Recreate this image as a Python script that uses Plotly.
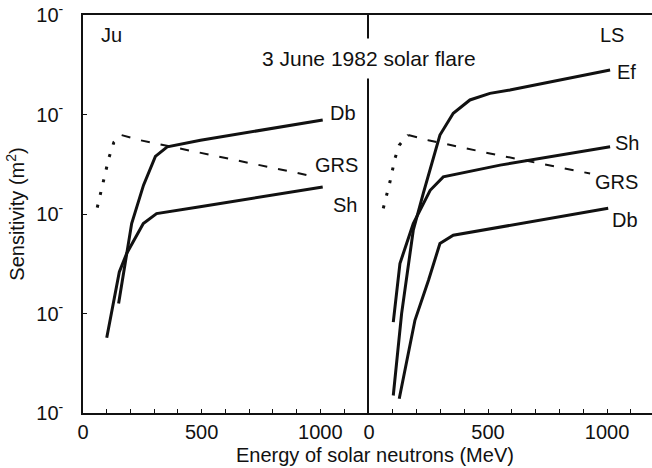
import math
import plotly.graph_objects as go

# ---- data (energy in MeV, sensitivity in m^2) ----
ju_db_e = [150, 205, 255, 305, 355, 495, 1010]
ju_db_s = [1.26e-3, 8.02e-3, 1.95e-2, 3.80e-2, 4.73e-2, 5.52e-2, 8.79e-2]
ju_sh_e = [100, 153, 184, 254, 310, 493, 1010]
ju_sh_s = [5.71e-4, 2.61e-3, 4.01e-3, 8.02e-3, 1.01e-2, 1.18e-2, 1.87e-2]
ju_grs_dot_e = [60, 85, 109, 130, 163]
ju_grs_dot_s = [1.16e-2, 2.06e-2, 3.66e-2, 5.25e-2, 6.21e-2]
ju_grs_dash_e = [163, 240, 949]
ju_grs_dash_s = [6.21e-2, 5.52e-2, 2.45e-2]

ls_ef_e = [102, 137, 186, 228, 298, 354, 424, 508, 592, 1013]
ls_ef_s = [1.50e-4, 9.98e-4, 6.87e-3, 1.61e-2, 6.21e-2, 1.03e-1, 1.40e-1, 1.63e-1, 1.76e-1, 2.80e-1]
ls_sh_e = [102, 130, 186, 257, 312, 551, 1013]
ls_sh_s = [8.20e-4, 3.18e-3, 8.02e-3, 1.73e-2, 2.36e-2, 3.10e-2, 4.73e-2]
ls_db_e = [127, 193, 250, 298, 354, 551, 1005]
ls_db_s = [1.39e-4, 8.55e-4, 2.16e-3, 5.05e-3, 6.12e-3, 7.41e-3, 1.14e-2]
ls_grs_dot_e = [60, 88, 109, 127, 165]
ls_grs_dot_s = [1.14e-2, 2.10e-2, 3.61e-2, 4.92e-2, 6.21e-2]
ls_grs_dash_e = [165, 249, 508, 929]
ls_grs_dash_s = [6.21e-2, 5.52e-2, 4.06e-2, 2.55e-2]

# curve labels: (text, energy, sensitivity, panel)
label_text = ["Ju", "Db", "GRS", "Sh", "LS", "Ef", "Sh", "GRS", "Db"]
label_e = [122, 1096, 1068, 1103, 1020, 1083, 1083, 1041, 1076]
label_s = [0.63, 0.1026, 0.031, 0.0123, 0.63, 0.269, 0.0512, 0.021, 0.00867]
label_panel = [1, 1, 1, 1, 2, 2, 2, 2, 2]

x_tickvals = list(range(0, 1201, 100))
x_ticktext = ["0" if v == 0 else "500" if v == 500 else "1000" if v == 1000 else "" for v in x_tickvals]
y_tickvals = [1e-4, 1e-3, 1e-2, 1e-1, 1]
y_ticktext = ["10<sup>-</sup>"] * 5

FONT = "Liberation Sans, Arial, sans-serif"
BLACK = "#111111"

fig = go.Figure()

def solid(x, y, xa, ya):
    fig.add_trace(go.Scatter(x=x, y=y, mode="lines", xaxis=xa, yaxis=ya,
                             line=dict(color=BLACK, width=3), showlegend=False, hoverinfo="skip"))

def dotted(x, y, xa, ya):
    fig.add_trace(go.Scatter(x=x, y=y, mode="lines", xaxis=xa, yaxis=ya,
                             line=dict(color=BLACK, width=3, dash="3px,10px"), showlegend=False, hoverinfo="skip"))

def dashed(x, y, xa, ya):
    fig.add_trace(go.Scatter(x=x, y=y, mode="lines", xaxis=xa, yaxis=ya,
                             line=dict(color=BLACK, width=2, dash="9px,11px"), showlegend=False, hoverinfo="skip"))

solid(ju_db_e, ju_db_s, "x", "y")
solid(ju_sh_e, ju_sh_s, "x", "y")
dotted(ju_grs_dot_e, ju_grs_dot_s, "x", "y")
dashed(ju_grs_dash_e, ju_grs_dash_s, "x", "y")

solid(ls_ef_e, ls_ef_s, "x2", "y2")
solid(ls_sh_e, ls_sh_s, "x2", "y2")
solid(ls_db_e, ls_db_s, "x2", "y2")
dotted(ls_grs_dot_e, ls_grs_dot_s, "x2", "y2")
dashed(ls_grs_dash_e, ls_grs_dash_s, "x2", "y2")

split = 286 / 569
xcommon = dict(tickmode="array", tickvals=x_tickvals, ticktext=x_ticktext, ticks="inside",
               ticklen=4, tickwidth=1, tickcolor=BLACK, showline=True, linecolor=BLACK,
               linewidth=1.5, mirror=True, showgrid=False, zeroline=False, automargin=False,
               tickfont=dict(size=20, color=BLACK, family=FONT))
fig.update_layout(
    width=652, height=468,
    margin=dict(l=83, r=0, t=15, b=55, autoexpand=False),
    paper_bgcolor="white", plot_bgcolor="white",
    font=dict(family=FONT, color=BLACK, size=20),
    xaxis=dict(domain=[0, split], range=[0, 1205], anchor="y", **xcommon),
    xaxis2=dict(domain=[split, 1], range=[0, 1189], anchor="y2", **xcommon),
    yaxis=dict(type="log", range=[-4, 0], anchor="x", tickmode="array", tickvals=y_tickvals,
               ticktext=y_ticktext, ticks="inside", ticklen=4, tickcolor=BLACK, automargin=False,
               showline=True, linecolor=BLACK, linewidth=1.5, showgrid=False, zeroline=False,
               tickfont=dict(size=20, color=BLACK, family=FONT), ticklabelstandoff=14,
               title=dict(text="Sensitivity (m<sup>2</sup>)", font=dict(size=20), standoff=6)),
    yaxis2=dict(type="log", range=[-4, 0], anchor="x2", showticklabels=False, ticks="",
                automargin=False,
                showline=True, linecolor=BLACK, linewidth=1.5, showgrid=False, zeroline=False),
)

for t, e, s, p in zip(label_text, label_e, label_s, label_panel):
    fig.add_annotation(text=t, x=e, y=math.log10(s),
                       xref="x" if p == 1 else "x2", yref="y" if p == 1 else "y2",
                       showarrow=False, xanchor="center", yanchor="middle",
                       font=dict(size=20, color=BLACK, family=FONT))

fig.add_annotation(text="3 June 1982 solar flare", xref="paper", yref="paper",
                   x=split, y=(412.7 - 58) / 397.7, showarrow=False, xanchor="center",
                   yanchor="middle", bgcolor="white", borderpad=8,
                   font=dict(size=21, color=BLACK, family=FONT))
fig.add_annotation(text="Energy of solar neutrons (MeV)", xref="paper", yref="paper",
                   x=(375 - 83) / 569, y=(412.7 - 455) / 397.7, showarrow=False,
                   xanchor="center", yanchor="middle", font=dict(size=20, color=BLACK, family=FONT))

fig.write_html("out.html", config={"displayModeBar": False},
               post_script="document.body.style.margin='0';document.body.style.overflow='hidden';")
